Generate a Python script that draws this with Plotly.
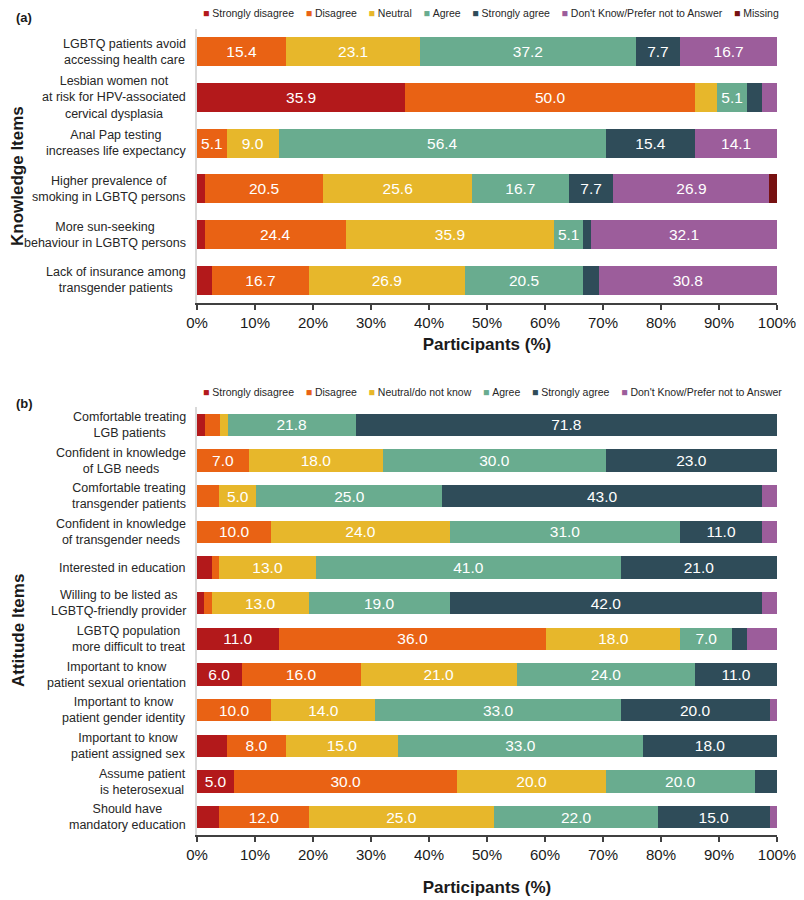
import plotly.graph_objects as go

FONT = "Liberation Sans, Arial, sans-serif"

# ---------------- Panel (a): Knowledge items (percent of participants) ----------------
ITEMS_A = [
    "LGBTQ patients avoid<br>accessing health care",
    "Lesbian women not<br>at risk for HPV-associated<br>cervical dysplasia",
    "Anal Pap testing<br>increases life expectancy",
    "Higher prevalence of<br>smoking in LGBTQ persons",
    "More sun-seeking<br>behaviour in LGBTQ persons",
    "Lack of insurance among<br>transgender patients",
]
A_STRONGLY_DISAGREE = [0.0, 35.9, 0.0, 1.3, 1.3, 2.6]
A_DISAGREE = [15.4, 50.0, 5.1, 20.5, 24.4, 16.7]
A_NEUTRAL = [23.1, 3.8, 9.0, 25.6, 35.9, 26.9]
A_AGREE = [37.2, 5.1, 56.4, 16.7, 5.1, 20.5]
A_STRONGLY_AGREE = [7.7, 2.6, 15.4, 7.7, 1.3, 2.6]
A_DONT_KNOW = [16.7, 2.6, 14.1, 26.9, 32.1, 30.8]
A_MISSING = [0.0, 0.0, 0.0, 1.3, 0.0, 0.0]
A_NAMES = ["Strongly disagree", "Disagree", "Neutral", "Agree", "Strongly agree",
           "Don't Know/Prefer not to Answer", "Missing"]

# ---------------- Panel (b): Attitude items (responses, shown as 100% stacked) ----------------
ITEMS_B = [
    "Comfortable treating<br>LGB patients",
    "Confident in knowledge<br>of LGB needs",
    "Comfortable treating<br>transgender patients",
    "Confident in knowledge<br>of transgender needs",
    "Interested in education",
    "Willing to be listed as<br>LGBTQ-friendly provider",
    "LGBTQ population<br>more difficult to treat",
    "Important to know<br>patient sexual orientation",
    "Important to know<br>patient gender identity",
    "Important to know<br>patient assigned sex",
    "Assume patient<br>is heterosexual",
    "Should have<br>mandatory education",
]
B_STRONGLY_DISAGREE = [1.3, 0, 0, 0, 2, 1, 11, 6, 0, 4, 5, 3]
B_DISAGREE = [2.6, 7, 3, 10, 1, 1, 36, 16, 10, 8, 30, 12]
B_NEUTRAL = [1.3, 18, 5, 24, 13, 13, 18, 21, 14, 15, 20, 25]
B_AGREE = [21.8, 30, 25, 31, 41, 19, 7, 24, 33, 33, 20, 22]
B_STRONGLY_AGREE = [71.8, 23, 43, 11, 21, 42, 2, 11, 20, 18, 3, 15]
B_DONT_KNOW = [0, 0, 2, 2, 0, 2, 4, 0, 1, 0, 0, 1]
B_NAMES = ["Strongly disagree", "Disagree", "Neutral/do not know", "Agree", "Strongly agree",
           "Don't Know/Prefer not to Answer"]

TICK_VALUES = [0, 10, 20, 30, 40, 50, 60, 70, 80, 90, 100]
TICK_LABELS = ["0%", "10%", "20%", "30%", "40%", "50%", "60%", "70%", "80%", "90%", "100%"]

COLORS = ["#B3191B", "#E96214", "#E7B72B", "#69AC8F", "#2F4C59", "#9C5D9B", "#771111"]

W, H = 804, 900
PAGE_MARGIN = 8          # default browser body margin around the figure
X0, X1 = 197, 777        # plot area (screen px)
A_TOP, A_BOT = 29, 303
B_TOP, B_BOT = 407, 835


def px_x(p):
    return (p - PAGE_MARGIN) / W


def px_y(p):
    return 1 - (p - PAGE_MARGIN) / H


def label(v):
    return f"{v:.1f}" if v >= 5 else ""


fig = go.Figure()

series_a = [A_STRONGLY_DISAGREE, A_DISAGREE, A_NEUTRAL, A_AGREE, A_STRONGLY_AGREE,
            A_DONT_KNOW, A_MISSING]
for name, vals, col in zip(A_NAMES, series_a, COLORS):
    fig.add_trace(go.Bar(
        y=ITEMS_A, x=vals, orientation="h", name=name,
        marker=dict(color=col, line=dict(width=0)),
        text=[label(v) for v in vals], textposition="inside",
        insidetextanchor="middle", textangle=0, constraintext="none",
        textfont=dict(color="white", size=15.5, family=FONT),
        width=0.64, xaxis="x", yaxis="y", showlegend=False,
    ))

series_b = [B_STRONGLY_DISAGREE, B_DISAGREE, B_NEUTRAL, B_AGREE, B_STRONGLY_AGREE, B_DONT_KNOW]
for name, vals, col in zip(B_NAMES, series_b, COLORS):
    fig.add_trace(go.Bar(
        y=ITEMS_B, x=vals, orientation="h", name=name,
        marker=dict(color=col, line=dict(width=0)),
        text=[label(v) for v in vals], textposition="inside",
        insidetextanchor="middle", textangle=0, constraintext="none",
        textfont=dict(color="white", size=15.5, family=FONT),
        width=0.62, xaxis="x2", yaxis="y2", showlegend=False,
    ))


def xaxis_style(standoff):
    return dict(
        range=[0, 100], tickmode="array", tickvals=TICK_VALUES, ticktext=TICK_LABELS,
        showline=True, linecolor="#404040", linewidth=1.5,
        ticks="outside", ticklen=5, tickwidth=1.5, tickcolor="#404040",
        tickfont=dict(size=15, color="#1a1a1a", family=FONT),
        showgrid=False, zeroline=False, fixedrange=True, automargin=False,
        title=dict(text="Participants (%)", standoff=standoff,
                   font=dict(size=17, color="#1a1a1a", family=FONT, weight="bold")),
    )


yaxis_common = dict(
    autorange="reversed", showticklabels=False, showline=True, automargin=False,
    linecolor="#D9D9D9", linewidth=2, ticks="", showgrid=False, zeroline=False,
)

fig.update_layout(
    width=W, height=H, margin=dict(l=0, r=0, t=0, b=0, autoexpand=False),
    paper_bgcolor="white", plot_bgcolor="white",
    barmode="stack", barnorm="percent",
    font=dict(family=FONT, color="#262626"),
    xaxis=dict(domain=[px_x(X0), px_x(X1)], anchor="y", **xaxis_style(8)),
    yaxis=dict(domain=[px_y(A_BOT), px_y(A_TOP)], anchor="x", **yaxis_common),
    xaxis2=dict(domain=[px_x(X0), px_x(X1)], anchor="y2", **xaxis_style(19)),
    yaxis2=dict(domain=[px_y(B_BOT), px_y(B_TOP)], anchor="x2", **yaxis_common),
)

annotations = []
for item in ITEMS_A:
    annotations.append(dict(x=px_x(188), xref="paper", y=item, yref="y", text=item,
                            showarrow=False, xanchor="right", yanchor="middle", align="center",
                            font=dict(size=12.5, color="#262626", family=FONT)))
for item in ITEMS_B:
    annotations.append(dict(x=px_x(188), xref="paper", y=item, yref="y2", text=item,
                            showarrow=False, xanchor="right", yanchor="middle", align="center",
                            font=dict(size=12.5, color="#262626", family=FONT)))

annotations.append(dict(x=px_x(18), y=px_y(176), xref="paper", yref="paper",
                        text="Knowledge Items", textangle=-90, showarrow=False,
                        xanchor="center", yanchor="middle",
                        font=dict(size=17, color="#1a1a1a", family=FONT, weight="bold")))
annotations.append(dict(x=px_x(18), y=px_y(631), xref="paper", yref="paper",
                        text="Attitude Items", textangle=-90, showarrow=False,
                        xanchor="center", yanchor="middle",
                        font=dict(size=17, color="#1a1a1a", family=FONT, weight="bold")))
annotations.append(dict(x=px_x(14), y=px_y(17), xref="paper", yref="paper", text="(a)",
                        showarrow=False, xanchor="left", yanchor="middle",
                        font=dict(size=13, color="#1a1a1a", family=FONT, weight="bold")))
annotations.append(dict(x=px_x(14), y=px_y(404), xref="paper", yref="paper", text="(b)",
                        showarrow=False, xanchor="left", yanchor="middle",
                        font=dict(size=13, color="#1a1a1a", family=FONT, weight="bold")))


def legend_text(names, colors):
    parts = [f'<span style="color:{c}">■</span>\u00a0{n}' for n, c in zip(names, colors)]
    return "\u00a0\u00a0\u00a0\u00a0".join(parts)


annotations.append(dict(x=px_x(201), y=px_y(13), xref="paper", yref="paper",
                        text=legend_text(A_NAMES, COLORS), showarrow=False,
                        xanchor="left", yanchor="middle",
                        font=dict(size=10.5, color="#262626", family=FONT)))
annotations.append(dict(x=px_x(201), y=px_y(392), xref="paper", yref="paper",
                        text=legend_text(B_NAMES, COLORS), showarrow=False,
                        xanchor="left", yanchor="middle",
                        font=dict(size=10.5, color="#262626", family=FONT)))

fig.update_layout(annotations=annotations)

fig.write_html("out.html")
